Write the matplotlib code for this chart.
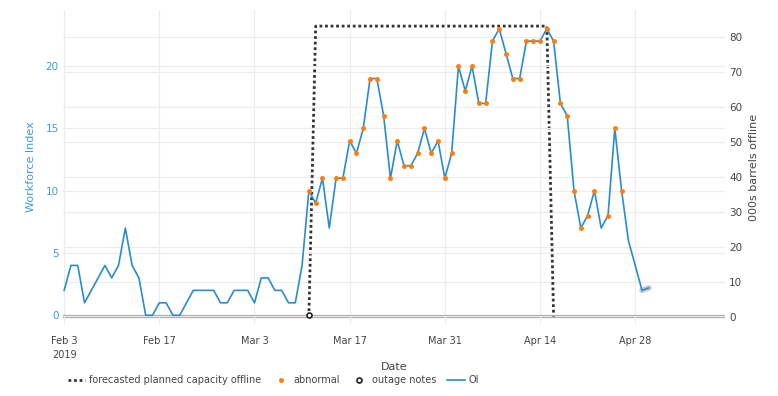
import matplotlib
matplotlib.use("Agg")
import matplotlib.pyplot as plt
from matplotlib.lines import Line2D
import pandas as pd

plt.rcParams['font.family'] = ['DejaVu Sans']

# ---------------- data ----------------
oi_start = "2019-02-03"
oi_values = [
    # Feb 3 - Feb 28
    2, 4, 4, 1, 2, 3, 4, 3, 4, 7, 4, 3, 0, 0, 1, 1, 0, 0, 1, 2, 2, 2, 2, 1, 1, 2,
    # Mar 1 - Mar 31
    2, 2, 1, 3, 3, 2, 2, 1, 1, 4, 10, 9, 11, 7, 11, 11, 14, 13, 15, 19, 19, 16,
    11, 14, 12, 12, 13, 15, 13, 14, 11,
    # Apr 1 - Apr 30
    13, 20, 18, 20, 17, 17, 22, 23, 21, 19, 19, 22, 22, 22, 23, 22, 17, 16, 10,
    7, 8, 10, 7, 8, 15, 10, 6, 4, 2, 2.2,
]
normal_dates = ["2019-03-14", "2019-04-23"]   # inside the abnormal window but not flagged
abnormal_first, abnormal_last = "2019-03-11", "2019-04-26"

forecast_dates = ["2019-03-11", "2019-03-12", "2019-04-15", "2019-04-16"]
forecast_values = [0, 83, 83, 0]

outage_dates = ["2019-03-11"]
outage_values = [0]

xtick_dates = ["2019-02-03", "2019-02-17", "2019-03-03", "2019-03-17",
               "2019-03-31", "2019-04-14", "2019-04-28"]
xtick_labels = ["Feb 3\n2019", "Feb 17", "Mar 3", "Mar 17", "Mar 31", "Apr 14", "Apr 28"]

left_ticks = [0, 5, 10, 15, 20]
right_ticks = [0, 10, 20, 30, 40, 50, 60, 70, 80]

# ---------------- build ----------------
oi = pd.Series(oi_values, index=pd.date_range(oi_start, periods=len(oi_values), freq="D"))
ab = oi[abnormal_first:abnormal_last]
ab = ab.drop(pd.to_datetime(normal_dates))

blue = "#2a8ccf"
blue_txt = "#3d9ad8"
orange = "#ff7f0e"
grid = "#ececec"

fig = plt.figure(figsize=(7.78, 3.96), dpi=100)
ax = fig.add_axes([63 / 778, 1 - 324 / 396, (725 - 63) / 778, 314 / 396])
ax2 = ax.twinx()

for a in (ax, ax2):
    for s in a.spines.values():
        s.set_visible(False)

x0 = pd.Timestamp("2019-02-02 20:00")
x1 = pd.Timestamp("2019-05-11 05:00")
ax.set_xlim(x0, x1)
ax.set_ylim(-0.7, 24.5)
ax2.set_ylim(-2.1, 87.6)

# gridlines
ax.set_xticks(pd.to_datetime(xtick_dates))
ax.set_xticklabels(xtick_labels)
ax.grid(True, axis="x", color=grid, lw=0.8)
ax.set_yticks(left_ticks)
ax.grid(True, axis="y", color=grid, lw=0.8)
ax2.set_yticks(right_ticks)
ax2.grid(True, axis="y", color=grid, lw=0.8)
ax.set_axisbelow(True)
ax2.set_axisbelow(True)

# zero lines
ax.axhline(0, color="#b0b0b0", lw=0.9, zorder=1)
ax2.axhline(0, color="#b0b0b0", lw=0.9, zorder=1)

# traces
ax2.plot(pd.to_datetime(forecast_dates), forecast_values, color="#333333",
         lw=2.0, linestyle=(0, (1, 1)), zorder=3)
ax.plot(oi.index[-2:], oi.values[-2:], color="#bdbdbd", lw=4, alpha=0.8, zorder=3,
        solid_capstyle="round")
ax.plot(oi.index, oi.values, color=blue, lw=1.2, zorder=4)
ax.plot(ab.index, ab.values, "o", color=orange, ms=3.6, mec="none", zorder=5)
ax.plot(pd.to_datetime(outage_dates), outage_values, "o", mfc="white", mec="#222222",
        mew=1.2, ms=3.6, zorder=6, clip_on=False)

ax.set_zorder(ax2.get_zorder() + 1)
ax.patch.set_visible(False)

# ticks
ax.tick_params(axis="x", length=0, pad=9, labelsize=7, labelcolor="#444444")
ax.tick_params(axis="y", length=0, pad=3, labelsize=7.5, labelcolor=blue_txt)
ax2.tick_params(axis="y", length=0, pad=3, labelsize=7.5, labelcolor="#444444")
for lab in ax.get_xticklabels():
    lab.set_horizontalalignment("center")
    lab.set_linespacing(1.5)

ax.set_ylabel("Workforce Index", color=blue_txt, fontsize=8, labelpad=7)
ax2.set_ylabel("000s barrels offline", color="#444444", fontsize=8, labelpad=5)
fig.text(394 / 778, 1 - 367 / 396, "Date", ha="center", va="center",
         fontsize=8, color="#444444")

handles = [
    Line2D([], [], color="#333333", lw=2.0, linestyle=(0, (1, 1))),
    Line2D([], [], marker="o", color=orange, ls="none", ms=3.6, mec="none"),
    Line2D([], [], marker="o", mfc="white", mec="#222222", mew=1.2, ls="none", ms=3.6),
    Line2D([], [], color=blue, lw=1.2),
]
labels = ["forecasted planned capacity offline", "abnormal", "outage notes", "OI"]
fig.legend(handles, labels, loc="center left", bbox_to_anchor=(59 / 778, 1 - 380 / 396),
           ncol=4, frameon=False, fontsize=7, handlelength=1.8, handletextpad=0.4,
           columnspacing=1.1, labelcolor="#444444")

fig.savefig("out.png", dpi=100)
